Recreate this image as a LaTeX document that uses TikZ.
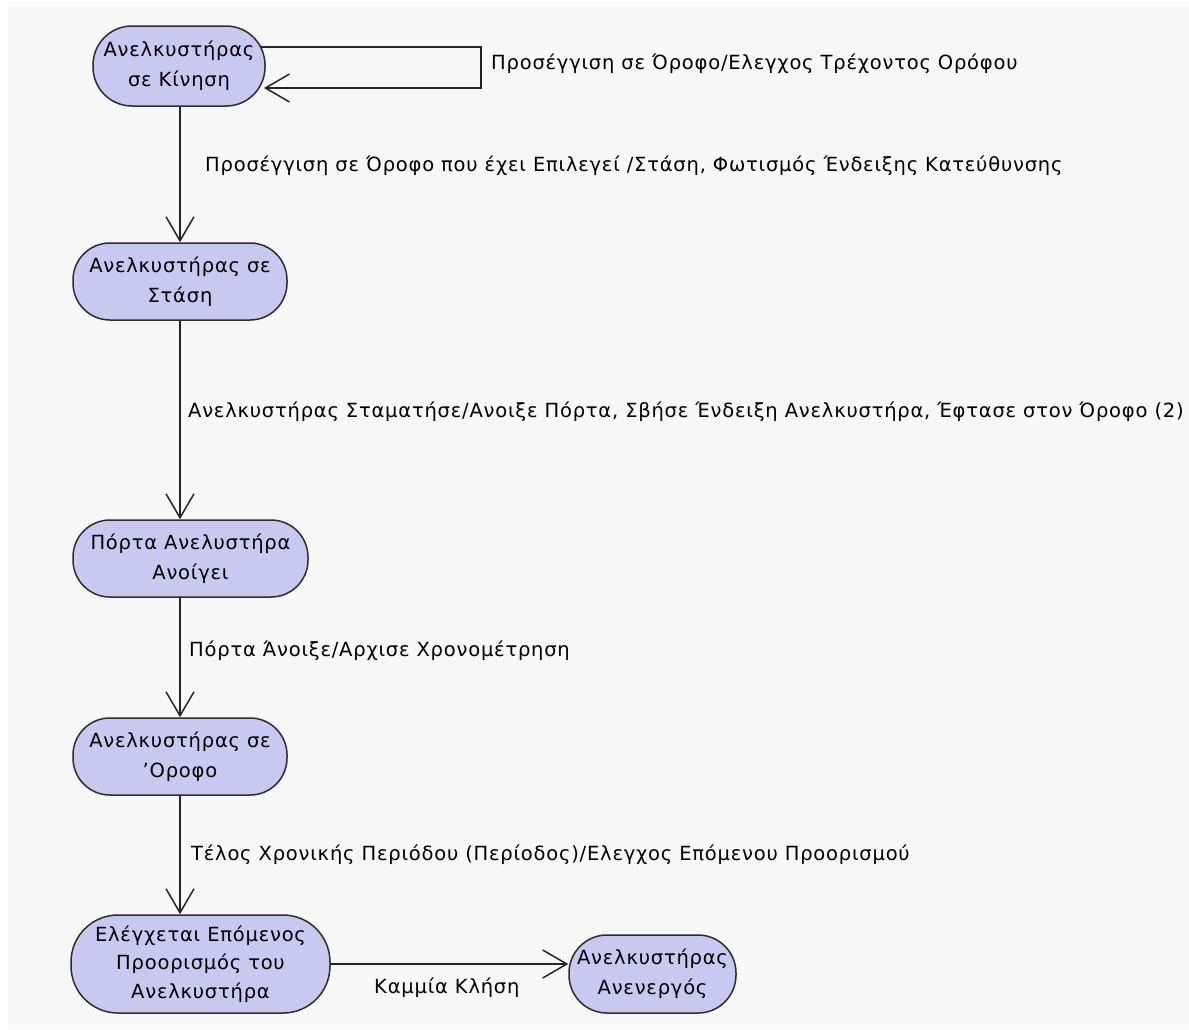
\documentclass[tikz,border=0pt]{standalone}
\usepackage{fontspec}
\setmainfont{DejaVu Sans}[LetterSpace=4]
\usetikzlibrary{arrows.meta,backgrounds,calc}
\definecolor{statefill}{RGB}{200,200,240}
\definecolor{stateline}{RGB}{45,45,45}
\definecolor{canvas}{RGB}{247,247,247}
\tikzset{
  x=1pt, y=-1pt,
  state/.style={draw=stateline, fill=statefill, line width=1.5pt, align=center,
    font=\fontsize{19.5}{30}\selectfont, inner sep=0pt},
  lbl/.style={anchor=west, inner sep=0pt, font=\fontsize{19.5}{24}\selectfont},
  conn/.style={line width=1.5pt, draw=black!85,
    -{Straight Barb[length=24pt,width=28pt,line width=1.5pt]}},
  plain/.style={line width=1.5pt, draw=black!85}
}
\begin{document}
\begin{tikzpicture}
\useasboundingbox (0,0) rectangle (1189,1029);

% states
\node[state, minimum width=172pt, minimum height=80pt, rounded corners=39pt]
  (kinisi) at (179,66) {Ανελκυστήρας\\σε Κίνηση};
\node[state, minimum width=214pt, minimum height=77pt, rounded corners=37pt]
  (stasi) at (180,281.5) {Ανελκυστήρας σε\\Στάση};
\node[state, minimum width=235pt, minimum height=77pt, rounded corners=37pt]
  (porta) at (190.5,558.5) {Πόρτα Ανελυστήρα\\Ανοίγει};
\node[state, minimum width=214pt, minimum height=77pt, rounded corners=37pt]
  (orofos) at (180,756.5) {Ανελκυστήρας σε\\'Οροφο};
\node[state, minimum width=259pt, minimum height=98pt, rounded corners=47pt,
  font=\fontsize{19.5}{28.5}\selectfont]
  (elegxos) at (200.5,964) {Ελέγχεται Επόμενος\\Προορισμός του\\Ανελκυστήρα};
\node[state, minimum width=167pt, minimum height=78pt, rounded corners=38pt]
  (anenergos) at (652.5,974) {Ανελκυστήρας\\Ανενεργός};

% transition labels
\node[lbl] (t0) at (491,64) {Προσέγγιση σε Όροφο/Ελεγχος Τρέχοντος Ορόφου};
\node[lbl] (t1) at (205,166) {Προσέγγιση σε Όροφο που έχει Επιλεγεί /Στάση, Φωτισμός Ένδειξης Κατεύθυνσης};
\node[lbl] (t2) at (188,412) {Ανελκυστήρας Σταματήσε/Ανοιξε Πόρτα, Σβήσε Ένδειξη Ανελκυστήρα, Έφτασε στον Όροφο (2)};
\node[lbl] (t3) at (189,651) {Πόρτα Άνοιξε/Αρχισε Χρονομέτρηση};
\node[lbl] (t4) at (191,855) {Τέλος Χρονικής Περιόδου (Περίοδος)/Ελεγχος Επόμενου Προορισμού};
\node[lbl] (t5) at (374,988) {Καμμία Κλήση};

% self-loop corners and its tip on the moving state
\coordinate (loopA) at (481,47);
\coordinate (loopB) at (481,88);
\coordinate (loopTip) at (264,88);

\begin{scope}[on background layer]
  % page and drawing canvas
  \fill[white] (0,0) rectangle (1189,1029);
  \fill[canvas] (8,7) rectangle (1189,1029);
  \draw[plain] (kinisi.center |- loopA) -- (loopA) -- (loopB) -- (loopB -| kinisi.east);
\end{scope}
\draw[conn] ($(loopB)+(-1,0)$) -- (loopTip);
\draw[conn] (stasi.north |- kinisi.south) -- (stasi.north);
\draw[conn] (stasi.south) -- (stasi.south |- porta.north);
\draw[conn] (orofos.north |- porta.south) -- (orofos.north);
\draw[conn] (orofos.south) -- (orofos.south |- elegxos.north);
\draw[conn] (elegxos.east) -- (elegxos.east -| anenergos.west);
\end{tikzpicture}
\end{document}
